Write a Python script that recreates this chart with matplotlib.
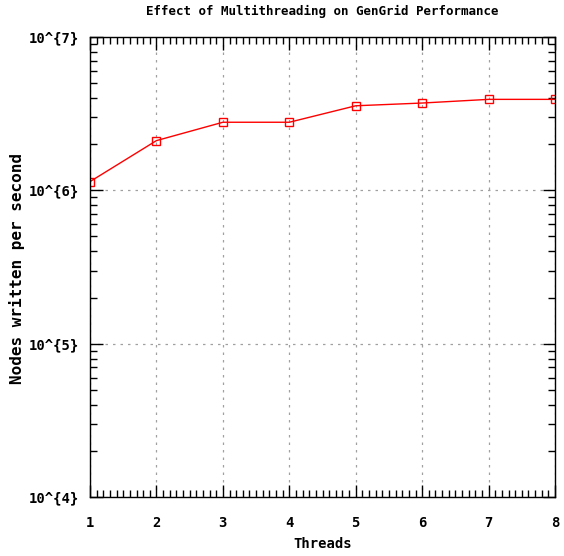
import numpy as np
import matplotlib
matplotlib.use('Agg')
import matplotlib.pyplot as plt
from matplotlib.ticker import FixedLocator, MultipleLocator, LogLocator, NullFormatter

threads = [1, 2, 3, 4, 5, 6, 7, 8]
nodes_per_sec = [1.14e6, 2.11e6, 2.78e6, 2.78e6, 3.56e6, 3.71e6, 3.92e6, 3.92e6]
y_ticks = [1e4, 1e5, 1e6, 1e7]
y_tick_labels = ['10^{4}', '10^{5}', '10^{6}', '10^{7}']

plt.rcParams['font.family'] = 'DejaVu Sans Mono'
plt.rcParams['font.weight'] = 'bold'

W, H = 564, 556
fig = plt.figure(figsize=(W / 100, H / 100), dpi=100)
ax = fig.add_axes([90 / W, 1 - 497 / H, 465 / W, 460 / H])

ax.plot(threads, nodes_per_sec, color='#ff0000', linewidth=1.0, marker='s',
        markersize=6, markerfacecolor='none', markeredgecolor='#ff0000',
        markeredgewidth=1.0)

ax.set_yscale('log')
ax.set_xlim(1, 8)
ax.set_ylim(1e4, 1e7)

ax.xaxis.set_major_locator(MultipleLocator(1))
ax.xaxis.set_minor_locator(MultipleLocator(0.1))
ax.yaxis.set_major_locator(FixedLocator(y_ticks))
ax.set_yticklabels(y_tick_labels)
ax.yaxis.set_minor_locator(LogLocator(base=10, subs=np.arange(2, 10)))
ax.yaxis.set_minor_formatter(NullFormatter())

ax.tick_params(which='both', direction='in', top=True, right=True, labelsize=10, width=1)
ax.tick_params(which='major', length=9, pad=8)
ax.tick_params(axis='x', which='major', pad=14)
ax.tick_params(which='minor', length=5)

ax.grid(True, which='major', color='#a0a0a0', linestyle=(0, (2, 4)), linewidth=0.9)

for s in ax.spines.values():
    s.set_linewidth(1.0)

fig.text(0.5 * (90 + 555) / W, 1 - 11 / H, 'Effect of Multithreading on GenGrid Performance',
         fontsize=9, fontweight='bold', ha='center', va='center')
fig.text(0.5 * (90 + 555) / W, 1 - 544 / H, 'Threads',
         fontsize=10, fontweight='bold', ha='center', va='center')
fig.text(17 / W, 1 - 268 / H, 'Nodes written per second', rotation=90,
         fontsize=11.5, fontweight='bold', ha='center', va='center')

fig.savefig('out.png', dpi=100)
